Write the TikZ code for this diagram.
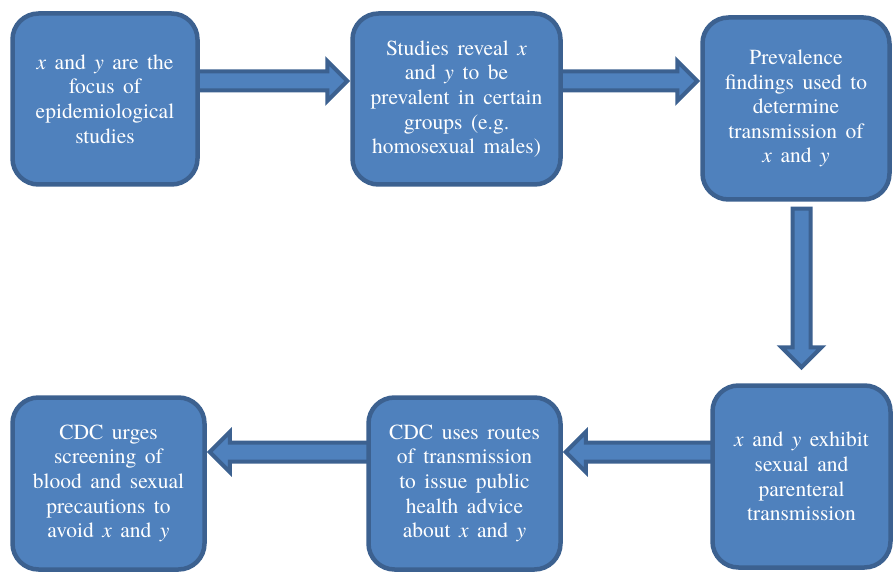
\documentclass[tikz,border=0pt]{standalone}
\usepackage{fontspec}
\setmainfont{texgyretermes}[Extension=.otf, UprightFont=*-regular, ItalicFont=*-italic, BoldFont=*-bold]
\usetikzlibrary{backgrounds}
\definecolor{boxfill}{HTML}{4F81BD}
\definecolor{boxline}{HTML}{3C6190}
\newcommand{\boxfont}{\fontsize{21.5}{24.6}\selectfont\spaceskip 8.5pt\relax}
\newcommand{\rarrow}[2]{%
  \draw[barrow] ([yshift=9.5pt]#1) -- ([xshift=-20pt,yshift=9.5pt]#2) -- ([xshift=-20pt,yshift=20pt]#2) -- (#2)
    -- ([xshift=-20pt,yshift=-20pt]#2) -- ([xshift=-20pt,yshift=-9.5pt]#2) -- ([yshift=-9.5pt]#1) -- cycle;}
\newcommand{\larrow}[2]{%
  \draw[barrow] ([yshift=9.5pt]#1) -- ([xshift=20pt,yshift=9.5pt]#2) -- ([xshift=20pt,yshift=20pt]#2) -- (#2)
    -- ([xshift=20pt,yshift=-20pt]#2) -- ([xshift=20pt,yshift=-9.5pt]#2) -- ([yshift=-9.5pt]#1) -- cycle;}
\newcommand{\darrow}[2]{%
  \draw[barrow] ([xshift=-9pt]#1) -- ([xshift=-9pt,yshift=20pt]#2) -- ([xshift=-20pt,yshift=20pt]#2) -- (#2)
    -- ([xshift=20pt,yshift=20pt]#2) -- ([xshift=9pt,yshift=20pt]#2) -- ([xshift=9pt]#1) -- cycle;}
\begin{document}
\begin{tikzpicture}[x=1pt,y=-1pt,
  box/.style={draw=boxline, fill=boxfill, line width=4.5pt, rounded corners=26pt,
    text=white, align=center, inner sep=0pt, font=\boxfont},
  barrow/.style={draw=boxline, fill=boxfill, line width=4pt, line join=miter}]
\useasboundingbox (0,0) rectangle (895,572);

\node[box, minimum width=185pt, minimum height=171pt] (b1) at (105,99)
  {\textit{x} and \textit{y} are the\\focus of\\epidemiological\\studies};
\node[box, minimum width=208pt, minimum height=171pt] (b2) at (456.5,99)
  {Studies reveal \textit{x}\\and \textit{y} to be\\prevalent in certain\\groups (e.g.\\homosexual males)};
\node[box, minimum width=187pt, minimum height=182pt] (b3) at (796,108.5)
  {Prevalence\\findings used to\\determine\\transmission of\\\textit{x} and \textit{y}};
\node[box, minimum width=178pt, minimum height=182pt] (b4) at (801.5,476.5)
  {\textit{x} and \textit{y} exhibit\\sexual and\\parenteral\\transmission};
\node[box, minimum width=192pt, minimum height=172pt] (b5) at (464.5,483.5)
  {CDC uses routes\\of transmission\\to issue public\\health advice\\about \textit{x} and \textit{y}};
\node[box, minimum width=192pt, minimum height=172pt] (b6) at (108.5,483.5)
  {CDC urges\\screening of\\blood and sexual\\precautions to\\avoid \textit{x} and \textit{y}};

\path (b1.east) ++(-4,-18) coordinate (a1s);
\path (b2.west |- a1s) ++(-3,0) coordinate (a1e);
\path (b2.east |- a1s) ++(-4,0) coordinate (a2s);
\path (b3.west |- a1s) ++(-3,0) coordinate (a2e);
\path (b3.south -| b4.north) ++(0,7) coordinate (a3s);
\path (b4.north) ++(0,-16) coordinate (a3e);
\path (b4.west) ++(4,-24.5) coordinate (a4s);
\path (b5.east |- a4s) ++(3,0) coordinate (a4e);
\path (b5.west |- a4s) ++(4,0) coordinate (a5s);
\path (b6.east |- a4s) ++(3,0) coordinate (a5e);

\begin{scope}[on background layer]
\rarrow{a1s}{a1e}
\rarrow{a2s}{a2e}
\darrow{a3s}{a3e}
\larrow{a4s}{a4e}
\larrow{a5s}{a5e}
\end{scope}
\end{tikzpicture}
\end{document}
